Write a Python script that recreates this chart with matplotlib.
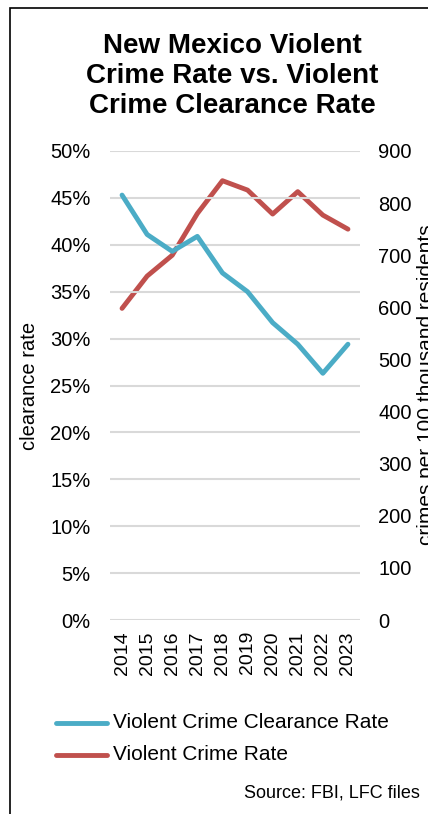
import matplotlib.pyplot as plt
from matplotlib.patches import Rectangle
from matplotlib.ticker import FuncFormatter

plt.rcParams['font.family'] = ['Liberation Sans', 'DejaVu Sans']

years = [2014, 2015, 2016, 2017, 2018, 2019, 2020, 2021, 2022, 2023]
clearance = [45.3, 41.1, 39.3, 40.9, 37.0, 35.0, 31.7, 29.4, 26.3, 29.4]
crime_rate = [598, 660, 700, 780, 843, 825, 779, 822, 777, 750]

blue = "#4bacc6"
red = "#c0504d"

fig = plt.figure(figsize=(4.28, 8.14), dpi=100)
ax = fig.add_axes([110/428, 1-620/814, 250/428, 469/814])
ax2 = ax.twinx()

ax.plot(years, clearance, color=blue, lw=3.5, solid_capstyle='round', zorder=3)
ax2.plot(years, crime_rate, color=red, lw=3.5, solid_capstyle='round', zorder=3)

ax.set_xlim(2013.52, 2023.48)
ax.set_ylim(0, 50)
ax2.set_ylim(0, 900)
ax.set_yticks(range(0, 51, 5))
ax2.set_yticks(range(0, 901, 100))
ax.yaxis.set_major_formatter(FuncFormatter(lambda v, p: "%d%%" % v))
ax.set_xticks(years)
ax.set_xticklabels([str(y) for y in years], rotation=90)

for v in range(0, 51, 5):
    ax.axhline(v, color="#d9d9d9", lw=1.5, zorder=1)

for a in (ax, ax2):
    for s in a.spines.values():
        s.set_visible(False)
    a.tick_params(length=0, labelsize=14.5, colors="black")
ax.tick_params(axis='x', labelsize=14, pad=8)
ax.tick_params(axis='y', pad=14)
ax2.tick_params(axis='y', pad=13)
ax.set_zorder(ax2.get_zorder() + 1)
ax.patch.set_visible(False)

fig.text(232/428, 1-76/814, "New Mexico Violent\nCrime Rate vs. Violent\nCrime Clearance Rate",
         ha='center', va='center', fontsize=20, fontweight='bold', linespacing=1.2)
fig.text(30/428, 1-386/814, "clearance rate", rotation=90, ha='center', va='center', fontsize=14.5)
# right axis title sits partly past the right edge, as in the original
fig.text(417/428, 1-385/814, "crimes per 100 thousand residents", rotation=90,
         ha='left', va='center', fontsize=15)

fig.add_artist(plt.Line2D([56/428, 107/428], [1-723/814, 1-723/814], color=blue, lw=3.5,
                          solid_capstyle='round'))
fig.add_artist(plt.Line2D([56/428, 107/428], [1-755/814, 1-755/814], color=red, lw=3.5,
                          solid_capstyle='round'))
fig.text(113/428, 1-723/814, "Violent Crime Clearance Rate", ha='left', va='center', fontsize=15)
fig.text(113/428, 1-755/814, "Violent Crime Rate", ha='left', va='center', fontsize=15)
fig.text(420/428, 1-793/814, "Source: FBI, LFC files", ha='right', va='center', fontsize=13)

fig.add_artist(Rectangle((10/428, -0.1), 1.2, 1-8/814+0.1, fill=False, edgecolor='black',
                         lw=1.2, transform=fig.transFigure))

fig.savefig("out.png", dpi=100)
